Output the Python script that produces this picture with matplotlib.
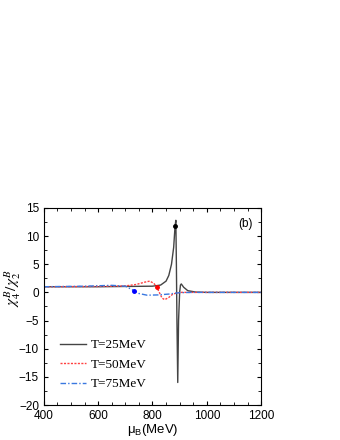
import matplotlib.pyplot as plt
from matplotlib.ticker import MultipleLocator

# T=25MeV
mu25 = [400, 600, 700, 800, 830, 850, 860, 870, 878, 883, 886, 888, 890, 893, 896, 900, 903, 906, 915, 930, 960, 1000, 1200]
r25 = [1.0, 1.0, 1.05, 1.1, 1.3, 2.0, 3.0, 5.0, 8.0, 11.7, 12.8, 5.0, -5.0, -16.0, -5.0, 0.0, 1.3, 1.5, 0.9, 0.3, 0.05, 0.0, 0.0]
# T=50MeV
mu50 = [400, 600, 700, 740, 770, 790, 805, 815, 825, 835, 845, 860, 875, 900, 1200]
r50 = [1.0, 1.05, 1.15, 1.4, 1.8, 2.0, 1.6, 1.0, 0.0, -1.0, -1.3, -0.9, -0.3, 0.0, 0.0]
# T=75MeV
mu75 = [400, 550, 650, 700, 720, 733, 750, 780, 820, 860, 900, 950, 1200]
r75 = [1.0, 1.1, 1.25, 1.1, 0.6, 0.3, -0.2, -0.5, -0.45, -0.3, -0.05, 0.0, 0.0]

# critical points
cp_mu = [883, 815, 733]
cp_r = [11.7, 1.0, 0.3]
cp_col = ['black', 'red', 'blue']

plt.rcParams['mathtext.fontset'] = 'stix'

fig = plt.figure(figsize=(3.4, 4.4), dpi=100)
ax = fig.add_axes([0.129, 0.0795, 0.639, 0.448])

ax.plot(mu25, r25, '-', color='#444444', lw=1.0, label='T=25MeV')
ax.plot(mu50, r50, ':', color='#ff4040', lw=1.0, label='T=50MeV', dashes=(1.5, 1))
ax.plot(mu75, r75, '-.', color='#3a78e0', lw=1.0, label='T=75MeV', dashes=(4, 1.5, 1, 1.5))
for x, y, c in zip(cp_mu, cp_r, cp_col):
    ax.plot(x, y, 'o', color=c, ms=2.5)

ax.set_xlim(400, 1200)
ax.set_ylim(-20, 15)
ax.xaxis.set_major_locator(MultipleLocator(200))
ax.xaxis.set_minor_locator(MultipleLocator(50))
ax.yaxis.set_major_locator(MultipleLocator(5))
ax.yaxis.set_minor_locator(MultipleLocator(2.5))
ax.tick_params(which='both', direction='in', top=True, right=True, labelsize=8.5)
ax.tick_params(which='major', length=3)
ax.tick_params(which='minor', length=2)
for lab in ax.get_xticklabels() + ax.get_yticklabels():
    lab.set_family('Liberation Sans')

ax.set_xlabel(r'$\mathregular{\mu_B}$(MeV)', family='Liberation Sans', fontsize=9.5, labelpad=0)
ax.set_ylabel(r'$\chi_4^B/\chi_2^B$', fontsize=11)
ax.yaxis.set_label_coords(-0.095, 0.59)
ax.text(0.96, 0.95, '(b)', transform=ax.transAxes, ha='right', va='top',
        family='Liberation Sans', fontsize=8.5)

leg = ax.legend(loc='lower left', bbox_to_anchor=(0.02, 0.015), frameon=False,
                handlelength=2.0, handletextpad=0.3, labelspacing=0.55,
                prop={'family': 'Liberation Serif', 'size': 9.5})

fig.savefig('out.png', dpi=100)
